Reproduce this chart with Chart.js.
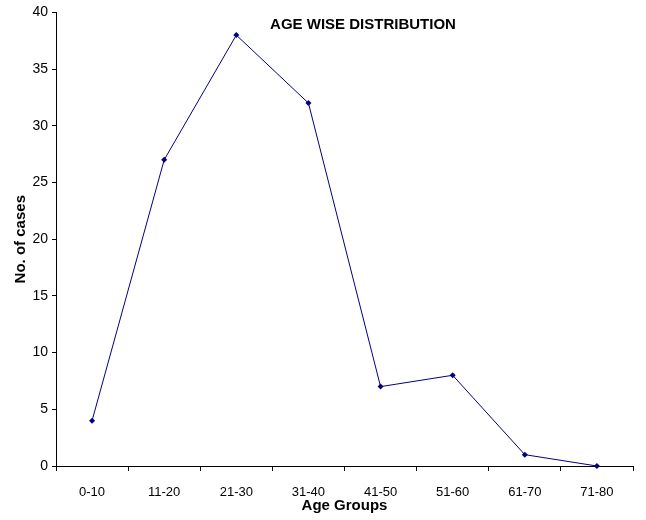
<!DOCTYPE html>
<html>
<head>
<meta charset="utf-8">
<script src="https://cdn.jsdelivr.net/npm/chart.js@4"></script>
<style>
  body { margin: 0; background: #fff; }
  #wrap { width: 646px; height: 520px; }
</style>
</head>
<body>
<div id="wrap"><canvas id="canvas" width="646" height="520"></canvas></div>
<script>
var ageGroups = ['0-10', '11-20', '21-30', '31-40', '41-50', '51-60', '61-70', '71-80'];
var caseCounts = [4, 27, 38, 32, 7, 8, 1, 0];
var yTicks = [0, 5, 10, 15, 20, 25, 30, 35, 40];

var FONT = "'Liberation Sans', Arial, sans-serif";

// title sits inside the plot area, near the top
var innerTitle = {
    id: 'innerTitle',
    afterDraw: function (chart) {
        var ctx = chart.ctx;
        ctx.save();
        ctx.font = 'bold 15px ' + FONT;
        ctx.fillStyle = '#000';
        ctx.textAlign = 'center';
        ctx.textBaseline = 'middle';
        ctx.fillText('AGE WISE DISTRIBUTION', 363, 25);
        ctx.restore();
    }
};

var ctx = document.getElementById('canvas').getContext('2d');
var myLineChart = new Chart(ctx, {
    type: 'line',
    data: {
        labels: ageGroups,
        datasets: [{
            label: 'No. of cases',
            data: caseCounts,
            borderColor: '#000080',
            backgroundColor: '#000080',
            borderWidth: 1,
            pointStyle: 'rectRot',
            pointRadius: 3,
            pointBorderWidth: 0,
            tension: 0,
            clip: false
        }]
    },
    options: {
        responsive: false,
        animation: false,
        layout: { padding: { left: 12, top: 12, right: 13, bottom: 5 } },
        plugins: {
            legend: { display: false },
            tooltip: { enabled: false }
        },
        scales: {
            x: {
                offset: true,
                grid: { display: true, offset: true, drawOnChartArea: false, drawTicks: true, tickLength: 5, color: '#000' },
                border: { color: '#000', width: 1 },
                ticks: { color: '#000', font: { family: FONT, size: 13 }, padding: 14, maxRotation: 0 },
                title: { display: true, text: 'Age Groups', color: '#000', font: { family: FONT, size: 15, weight: 'bold' }, padding: { top: 0, bottom: 0 } },
                afterFit: function (scale) { scale.height = 49; }
            },
            y: {
                min: 0,
                max: 40,
                afterBuildTicks: function (scale) {
                    scale.ticks = yTicks.map(function (v) { return { value: v }; });
                },
                grid: { display: true, drawOnChartArea: false, drawTicks: true, tickLength: 4, color: '#000' },
                border: { color: '#000', width: 1 },
                ticks: { color: '#000', font: { family: FONT, size: 14 }, padding: 4 },
                title: { display: true, text: 'No. of cases', color: '#000', font: { family: FONT, size: 15, weight: 'bold' }, padding: { top: 0, bottom: 4 } },
                afterFit: function (scale) { scale.width = 44; }
            }
        }
    },
    plugins: [innerTitle]
});
</script>
</body>
</html>
